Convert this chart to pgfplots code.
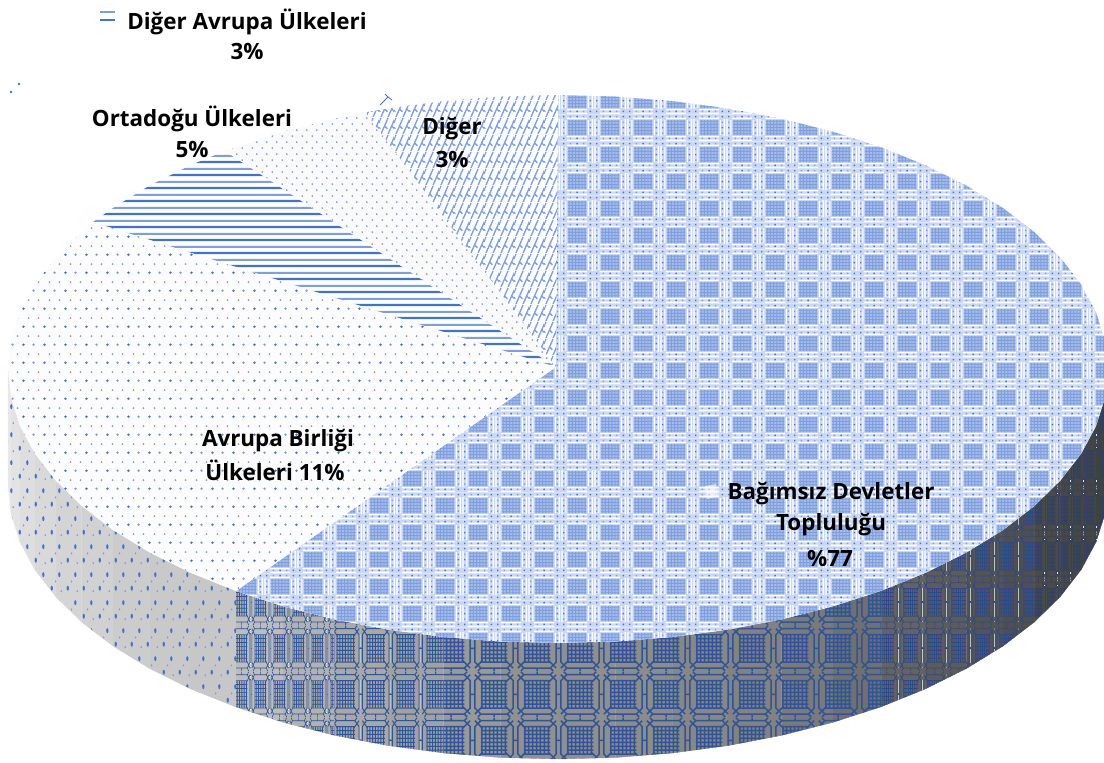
\documentclass[border=0pt]{standalone}
\usepackage{fontspec}
\setmainfont{Open Sans}
\usepackage{pgfplots}
\usepackage{pgfplotstable}
\pgfplotsset{compat=1.18}
\usetikzlibrary{patterns}
\definecolor{bB}{HTML}{CBD8F3}
\definecolor{bL}{HTML}{A6BCE9}
\definecolor{bM}{HTML}{7F9EDD}
\definecolor{bD}{HTML}{4472C4}
\definecolor{bN}{HTML}{2F5597}
\definecolor{bN2}{HTML}{2E4A80}
\definecolor{bN3}{HTML}{2C3F66}
\newdimen\uu \uu=0.75pt
\newcommand\R[4]{\pgfpathrectangle{\pgfpoint{#1\uu}{#2\uu}}{\pgfpoint{#3\uu}{#4\uu}}}
\newcommand\Ln[4]{\pgfpathmoveto{\pgfpoint{#1\uu}{#2\uu}}\pgfpathlineto{\pgfpoint{#3\uu}{#4\uu}}}
\newcommand\Dot[3]{\pgfpathcircle{\pgfpoint{#1\uu}{#2\uu}}{#3\uu}}
\newcommand\Ell[4]{\pgfpathellipse{\pgfpoint{#1\uu}{#2\uu}}{\pgfpoint{#3\uu}{0pt}}{\pgfpoint{0pt}{#4\uu}}}
% top of the large slice
\pgfdeclarepatterninherentlycolored{bigblue}{\pgfpointorigin}{\pgfpoint{33\uu}{27.3\uu}}{\pgfpoint{33\uu}{27.3\uu}}{%
  \pgfsetfillcolor{bB}\R{0}{0}{33}{27.3}\pgfusepath{fill}%
  \pgfsetfillcolor{white}%
  \R{6}{0.2}{21}{1.3}\R{6}{3.8}{21}{1.2}\R{6}{22.7}{21}{1.2}%
  \R{0.3}{5}{1.3}{17.3}\R{4.4}{6}{1.1}{15.3}\R{27.6}{6}{1.1}{15.3}\R{31.4}{5}{1.3}{17.3}%
  \pgfusepath{fill}%
  \pgfsetfillcolor{bL}\R{7}{6}{19}{15.3}\pgfusepath{fill}%
  \pgfsetfillcolor{bM}%
  \R{7}{7}{19}{0.9}\R{7}{10.2}{19}{0.9}\R{7}{13.4}{19}{0.9}\R{7}{16.6}{19}{0.9}\R{7}{19.8}{19}{0.9}%
  \R{8}{6}{0.9}{15.3}\R{11.3}{6}{0.9}{15.3}\R{14.6}{6}{0.9}{15.3}\R{17.9}{6}{0.9}{15.3}\R{21.2}{6}{0.9}{15.3}\R{24.4}{6}{0.9}{15.3}%
  \R{9}{1.9}{1.5}{1.5}\R{22.5}{1.9}{1.5}{1.5}\R{9}{24.2}{1.5}{1.5}\R{22.5}{24.2}{1.5}{1.5}%
  \R{2.1}{7.4}{1.5}{1.5}\R{2.1}{18.4}{1.5}{1.5}\R{29.5}{7.4}{1.5}{1.5}\R{29.5}{18.4}{1.5}{1.5}%
  \pgfusepath{fill}%
  \pgfsetfillcolor{bD}%
  \R{2.1}{1.9}{1.5}{1.5}\R{29.5}{1.9}{1.5}{1.5}\R{2.1}{24.2}{1.5}{1.5}\R{29.5}{24.2}{1.5}{1.5}%
  \R{15.8}{1.9}{1.5}{1.5}\R{15.8}{24.2}{1.5}{1.5}\R{2.1}{12.9}{1.5}{1.5}\R{29.5}{12.9}{1.5}{1.5}%
  \pgfusepath{fill}%
}
% side of the large slice, at several horizontal compressions (#4: line width)
\newcommand\declSide[4]{%
\pgfdeclarepatterninherentlycolored{#1}{\pgfpointorigin}{\pgfpoint{#2*43\uu}{46\uu}}{\pgfpoint{#2*43\uu}{46\uu}}{%
  \pgftransformxscale{#2}%
  \pgfsetstrokecolor{#3}%
  \pgfsetlinewidth{#4\uu}%
  \pgfpathmoveto{\pgfpoint{8\uu}{3\uu}}\pgfpathlineto{\pgfpoint{35\uu}{3\uu}}\pgfpathlineto{\pgfpoint{41\uu}{9\uu}}\pgfpathlineto{\pgfpoint{41\uu}{37\uu}}\pgfpathlineto{\pgfpoint{35\uu}{43\uu}}\pgfpathlineto{\pgfpoint{8\uu}{43\uu}}\pgfpathlineto{\pgfpoint{2\uu}{37\uu}}\pgfpathlineto{\pgfpoint{2\uu}{9\uu}}\pgfpathclose
  \Ln{2}{3}{10}{11}\Ln{41}{3}{33}{11}\Ln{2}{43}{10}{35}\Ln{41}{43}{33}{35}%
  \Ln{8}{3}{5}{0}\Ln{35}{3}{38}{0}\Ln{8}{43}{5}{46}\Ln{35}{43}{38}{46}%
  \Ln{21.5}{0}{21.5}{3}\Ln{21.5}{43}{21.5}{46}\Ln{0}{23}{2}{23}\Ln{41}{23}{43}{23}%
  \pgfusepath{stroke}%
  \Ln{8}{9}{35}{9}\Ln{8}{13}{35}{13}\Ln{8}{17}{35}{17}\Ln{8}{21}{35}{21}\Ln{8}{25}{35}{25}\Ln{8}{29}{35}{29}\Ln{8}{33}{35}{33}\Ln{8}{37}{35}{37}%
  \Ln{9}{9}{9}{37}\Ln{13}{9}{13}{37}\Ln{17}{9}{17}{37}\Ln{21}{9}{21}{37}\Ln{25}{9}{25}{37}\Ln{29}{9}{29}{37}\Ln{33}{9}{33}{37}%
  \pgfusepath{stroke}%
}}
\declSide{sideA}{0.3}{bN3}{0.45}
\declSide{sideB}{0.55}{bN2}{0.8}
\declSide{sideC}{1}{bN}{1.5}
\declSide{sideD}{0.7}{bN}{1.0}
\declSide{sideE}{0.45}{bN}{0.65}
% "Diger"
\pgfdeclarepatterninherentlycolored{brick}{\pgfpointorigin}{\pgfpoint{14.6\uu}{17\uu}}{\pgfpoint{14.6\uu}{17\uu}}{%
  \pgfsetstrokecolor{bM}\pgfsetlinewidth{1.4\uu}%
  \Ln{1}{0}{8.3}{17}\Ln{8.3}{0}{15.6}{17}\Ln{-6.3}{0}{1}{17}%
  \Ln{4.6}{8.5}{7.6}{5.5}\Ln{11.9}{8.5}{14.9}{5.5}\Ln{-2.7}{8.5}{0.3}{5.5}%
  \pgfusepath{stroke}%
}
% dots
\pgfdeclarepatterninherentlycolored{dotsEU}{\pgfpointorigin}{\pgfpoint{21\uu}{18\uu}}{\pgfpoint{21\uu}{18\uu}}{%
  \pgfsetfillcolor{bD}\Dot{2.6}{4.5}{1.35}\pgfusepath{fill}%
  \pgfsetfillcolor{bM}\Dot{13.1}{4.5}{1.35}\Dot{7.85}{13.5}{1.05}\Dot{18.35}{13.5}{1.05}\pgfusepath{fill}%
}
\pgfdeclarepatterninherentlycolored{dotsME}{\pgfpointorigin}{\pgfpoint{10\uu}{12.4\uu}}{\pgfpoint{10\uu}{12.4\uu}}{%
  \pgfsetfillcolor{bM}\Dot{2.5}{3.1}{1.05}\Dot{7.5}{9.3}{1.05}\pgfusepath{fill}%
}
\pgfdeclarepatterninherentlycolored{hatchH}{\pgfpointorigin}{\pgfpoint{4\uu}{12.6\uu}}{\pgfpoint{4\uu}{12.6\uu}}{%
  \pgfsetfillcolor{bD}\R{0}{2}{4}{2.3}\pgfusepath{fill}%
  \pgfsetfillcolor{bM}\R{0}{8.3}{4}{2.1}\pgfusepath{fill}%
}
\pgfdeclarepatterninherentlycolored{sideDots}{\pgfpointorigin}{\pgfpoint{16\uu}{28\uu}}{\pgfpoint{16\uu}{28\uu}}{%
  \pgfsetfillcolor{bD}\Ell{4}{7}{1.2}{2.6}\Ell{12}{21}{1.2}{2.6}\pgfusepath{fill}%
  \pgfsetfillcolor{bM}\Ell{8}{14}{0.8}{1.3}\Ell{14}{4}{0.8}{1.3}\pgfusepath{fill}%
}
% top faces
\pgfplotstableread{
x y
556 367
558 95
615.5 96.5
672.3 101
728 108.4
781.7 118.7
833 131.7
881.3 147.3
926 165.4
966.7 185.7
1003 208
1034.3 232
1060.4 257.6
1081.1 284.3
1096 312
1105 340.4
1108 369
1105 397.6
1096 426
1081.1 453.7
1060.4 480.4
1034.3 506
1003 530
966.7 552.3
926 572.6
881.3 590.7
833 606.3
781.7 619.3
728 629.6
672.3 637
615.5 641.5
558 643
500.5 641.5
443.7 637
388 629.6
334.3 619.3
283 606.3
236 591
}\tBlue
\pgfplotstableread{
x y
556 367
236 591
190 572.6
149.3 552.3
113 530
81.7 506
55.6 480.4
34.9 453.7
20 426
11 397.6
8 369
11 340.4
20 312
34.9 284.3
55.6 257.6
81.7 232
93 222
}\tEU
\pgfplotstableread{
x y
556 367
93 222
113 208
149.3 185.7
190 165.4
225 151
}\tME
\pgfplotstableread{
x y
556 367
225 151
283 131.7
334.3 118.7
365.4 112.3
}\tOE
\pgfplotstableread{
x y
556 367
365.4 112.3
388 108.4
443.7 101
500.5 96.5
558 95
}\tOT
% side faces
\pgfplotstableread{
x y
1108 369
1105 397.6
1096 426
1081.1 453.7
1060.4 480.4
1034.3 506
1034.3 622
1060.4 596.4
1081.1 569.7
1096 542
1105 513.6
1108 485
}\sA
\pgfplotstableread{
x y
1034.3 506
1003 530
966.7 552.3
926 572.6
881.3 590.7
881.3 706.7
926 688.6
966.7 668.3
1003 646
1034.3 622
}\sB
\pgfplotstableread{
x y
881.3 590.7
833 606.3
781.7 619.3
728 629.6
672.3 637
615.5 641.5
558 643
500.5 641.5
443.7 637
443.7 753
500.5 757.5
558 759
615.5 757.5
672.3 753
728 745.6
781.7 735.3
833 722.3
881.3 706.7
}\sC
\pgfplotstableread{
x y
443.7 637
388 629.6
334.3 619.3
334.3 735.3
388 745.6
443.7 753
}\sD
\pgfplotstableread{
x y
334.3 619.3
283 606.3
236 591
236 707
283 722.3
334.3 735.3
}\sE
\pgfplotstableread{
x y
236 591
190 572.6
149.3 552.3
113 530
81.7 506
55.6 480.4
34.9 453.7
20 426
11 397.6
8 369
8 485
11 513.6
20 542
34.9 569.7
55.6 596.4
81.7 622
113 646
149.3 668.3
190 688.6
236 707
}\sF
\newcommand\facet[5]{%
  \pgfmathsetmacro\yA{#3+116}\pgfmathsetmacro\yB{#5+116}%
  \addplot[fill=black!#1,draw=black!#1,line width=0.3pt] coordinates {(#2,#3)(#4,#5)(#4,\yB)(#2,\yA)};}
\begin{document}
\begin{tikzpicture}
\path[use as bounding box] (0,0) rectangle (828pt,572.25pt);
\begin{axis}[at={(0,0)},anchor=south west,width=828pt,height=572.25pt,scale only axis,
  xmin=0,xmax=1104,ymin=0,ymax=763,y dir=reverse,axis line style={draw=none},ticks=none,no markers,
  every axis plot/.append style={solid}]
\facet{74}{1108}{369}{1105}{397.6}
\facet{74}{1105}{397.6}{1096}{426}
\facet{73}{1096}{426}{1081.1}{453.7}
\facet{72}{1081.1}{453.7}{1060.4}{480.4}
\facet{71}{1060.4}{480.4}{1034.3}{506}
\facet{69}{1034.3}{506}{1003}{530}
\facet{67}{1003}{530}{966.7}{552.3}
\facet{64}{966.7}{552.3}{926}{572.6}
\facet{61}{926}{572.6}{881.3}{590.7}
\facet{56}{881.3}{590.7}{833}{606.3}
\facet{52}{833}{606.3}{781.7}{619.3}
\facet{49}{781.7}{619.3}{728}{629.6}
\facet{47}{728}{629.6}{672.3}{637}
\facet{45}{672.3}{637}{615.5}{641.5}
\facet{44}{615.5}{641.5}{558}{643}
\facet{43}{558}{643}{500.5}{641.5}
\facet{40}{500.5}{641.5}{443.7}{637}
\facet{37}{443.7}{637}{388}{629.6}
\facet{34}{388}{629.6}{334.3}{619.3}
\facet{30}{334.3}{619.3}{283}{606.3}
\facet{26}{283}{606.3}{236}{591}
\facet{22}{236}{591}{190}{572.6}
\facet{21}{190}{572.6}{149.3}{552.3}
\facet{20}{149.3}{552.3}{113}{530}
\facet{18}{113}{530}{81.7}{506}
\facet{17}{81.7}{506}{55.6}{480.4}
\facet{15}{55.6}{480.4}{34.9}{453.7}
\facet{13}{34.9}{453.7}{20}{426}
\facet{11}{20}{426}{11}{397.6}
\facet{9}{11}{397.6}{8}{369}
\addplot[draw=none,pattern=sideA] table[x=x,y=y]{\sA};
\addplot[draw=none,pattern=sideB] table[x=x,y=y]{\sB};
\addplot[draw=none,pattern=sideC] table[x=x,y=y]{\sC};
\addplot[draw=none,pattern=sideD] table[x=x,y=y]{\sD};
\addplot[draw=none,pattern=sideE] table[x=x,y=y]{\sE};
\addplot[draw=none,pattern=sideDots] table[x=x,y=y]{\sF};
% top faces
\addplot[draw=none,fill=white] table[x=x,y=y]{\tBlue};
\addplot[draw=none,pattern=bigblue] table[x=x,y=y]{\tBlue};
\addplot[draw=none,fill=black!1] table[x=x,y=y]{\tEU};
\addplot[draw=none,pattern=dotsEU] table[x=x,y=y]{\tEU};
\addplot[draw=none,fill=white] table[x=x,y=y]{\tME};
\addplot[draw=none,pattern=hatchH] table[x=x,y=y]{\tME};
\addplot[draw=none,fill=black!2] table[x=x,y=y]{\tOE};
\addplot[draw=none,pattern=dotsME] table[x=x,y=y]{\tOE};
\addplot[draw=none,fill=white] table[x=x,y=y]{\tOT};
\addplot[draw=none,pattern=brick] table[x=x,y=y]{\tOT};
% white patch beside the label
\addplot[draw=none,fill=white,fill opacity=0.6] coordinates {(705,486)(716,484)(718,496)(707,499)};
% legend dash and specks
\addplot[bM,line width=1.6pt] coordinates {(100,12)(115,12)};
\addplot[bD,line width=2pt] coordinates {(100,20)(115,20)};
\addplot[bD,only marks,mark=*,mark size=0.7pt] coordinates {(11,92)(19,84)};
\addplot[bD,line width=0.6pt] coordinates {(380,105)(388,97)(392,100)};
\addplot[bD,line width=0.6pt] coordinates {(385,94)(388,97)};
% labels
\begin{scope}[every node/.style={font=\fontsize{16.8}{18}\selectfont\bfseries,text=black,inner sep=0pt,anchor=center}]
\node at (axis cs:247,22) {Diğer Avrupa Ülkeleri};
\node at (axis cs:247,52) {3\%};
\node at (axis cs:192,119) {Ortadoğu Ülkeleri};
\node at (axis cs:192,150) {5\%};
\node at (axis cs:452,129) {Diğer};
\node at (axis cs:452,160) {3\%};
\node at (axis cs:278,441) {Avrupa Birliği};
\node at (axis cs:275,470) {Ülkeleri 11\%};
\node at (axis cs:831,494) {Bağımsız Devletler};
\node at (axis cs:831,525) {Topluluğu};
\node at (axis cs:830,558) {\%77};
\end{scope}
\end{axis}
\end{tikzpicture}
\end{document}
